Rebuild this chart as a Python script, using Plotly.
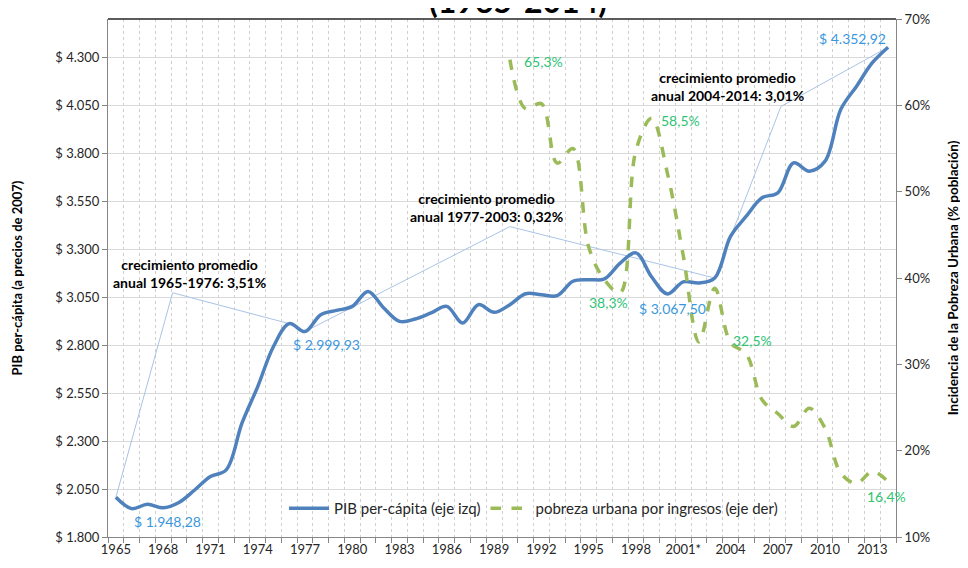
import plotly.graph_objects as go

# ---- data ----
years = list(range(1965, 2015))
year_labels = [str(y) + ("*" if y == 2001 else "") for y in years]

pib = [2007, 1948, 1971, 1952, 1980, 2045, 2115, 2150, 2393, 2584,
       2793, 2912, 2871, 2959, 2981, 3002, 3080, 2994, 2924, 2936,
       2968, 3002, 2915, 3011, 2971, 3011, 3068, 3063, 3058, 3133,
       3141, 3145, 3228, 3281, 3155, 3067, 3130, 3124, 3150, 3367,
       3472, 3568, 3594, 3750, 3707, 3759, 4029, 4150, 4272, 4353]

pobreza_years = list(range(1990, 2015))
pobreza = [65.3, 59.6, 60.2, 53.3, 55.0, 43.6, 39.8, 38.3, 54.8, 58.5,
           52.1, 42.6, 32.6, 38.8, 32.5, 31.2, 25.9, 24.3, 22.8, 24.9,
           22.6, 17.4, 16.2, 17.6, 16.4]

left_ticks = [1800, 2050, 2300, 2550, 2800, 3050, 3300, 3550, 3800, 4050, 4300]
left_ticktext = ["$ 1.800", "$ 2.050", "$ 2.300", "$ 2.550", "$ 2.800", "$ 3.050",
                 "$ 3.300", "$ 3.550", "$ 3.800", "$ 4.050", "$ 4.300"]

# growth callouts: (start year, end year, elbow x, elbow value, text x, text)
tramos = [
    (1965, 1976, 3.6, 3073, 4.7, "crecimiento promedio<br>anual 1965-1976: 3,51%"),
    (1977, 2003, 25.0, 3418, 23.5, "crecimiento promedio<br>anual 1977-2003: 0,32%"),
    (2003, 2014, 42.2, 4044, 38.8, "crecimiento promedio<br>anual 2004-2014: 3,01%"),
]

FONT = "Lato, 'Open Sans', sans-serif"
BLUE = "#4F81BD"
GREEN = "#9BBB59"
BLUE_TXT = "#3A97DE"
GREEN_TXT = "#2EC474"
LEADER = "#A9C4E6"

idx = {y: i for i, y in enumerate(years)}
xp = [idx[y] for y in years]
xg = [idx[y] for y in pobreza_years]

fig = go.Figure()

# leader lines of the callouts
for a, b, ex, ev, tx, txt in tramos:
    fig.add_trace(go.Scatter(
        x=[idx[a], ex, idx[b]], y=[pib[idx[a]], ev, pib[idx[b]]],
        mode="lines", line=dict(color=LEADER, width=1),
        showlegend=False, hoverinfo="skip"))

fig.add_trace(go.Scatter(
    x=xp, y=pib, name="PIB per-cápita (eje izq)", mode="lines",
    line=dict(color=BLUE, width=3.5, shape="spline", smoothing=1.0)))

fig.add_trace(go.Scatter(
    x=xg, y=pobreza, name="pobreza urbana por ingresos (eje der)", mode="lines",
    yaxis="y2",
    line=dict(color=GREEN, width=3.5, dash="dash", shape="spline", smoothing=1.0)))

ann = []
for a, b, ex, ev, tx, txt in tramos:
    ann.append(dict(x=tx, y=ev, text=txt, showarrow=False, xanchor="center",
                    yanchor="bottom", font=dict(size=14, color="#000000", family=FONT,
                                                weight="bold")))

# value labels
def lbl_pib(year, text, xa, ya, dx=0, dy=0):
    ann.append(dict(x=idx[year], y=pib[idx[year]], text=text, showarrow=False,
                    xanchor=xa, yanchor=ya, xshift=dx, yshift=dy,
                    font=dict(size=14, color=BLUE_TXT, family=FONT)))

def lbl_pob(year, text, xa, ya, dx=0, dy=0):
    ann.append(dict(x=idx[year], y=pobreza[pobreza_years.index(year)], yref="y2",
                    text=text, showarrow=False, xanchor=xa, yanchor=ya,
                    xshift=dx, yshift=dy,
                    font=dict(size=14, color=GREEN_TXT, family=FONT)))

lbl_pib(1966, "$ 1.948,28", "left", "top", 0, -2)
lbl_pib(1976, "$ 2.999,93", "left", "top", 2, -10)
lbl_pib(2000, "$ 3.067,50", "center", "top", 5, -4)
lbl_pib(2014, "$ 4.352,92", "right", "bottom", 0, -2)
lbl_pob(1990, "65,3%", "left", "middle", 12, -2)
lbl_pob(1997, "38,3%", "right", "middle", 10, -10)
lbl_pob(1999, "58,5%", "left", "middle", 7, -2)
lbl_pob(2004, "32,5%", "left", "middle", 0, 2)
lbl_pob(2014, "16,4%", "center", "top", -2, -4)

# partially visible title at the very top
ann.append(dict(x=0.52, y=1.0, xref="paper", yref="paper", text="(1965-2014)",
                showarrow=False, xanchor="center", yanchor="bottom", yshift=-3,
                font=dict(size=32, color="#000000", family=FONT, weight="bold")))

# page body has an 8px margin, so the figure is 960x560 and shifted
fig.update_layout(
    width=960, height=560,
    margin=dict(l=100, r=72, t=11, b=31),
    paper_bgcolor="white", plot_bgcolor="white",
    font=dict(family=FONT, size=13, color="#262626"),
    showlegend=True,
    legend=dict(orientation="h", x=0.54, y=0.055, xanchor="center", yanchor="middle",
                bgcolor="rgba(0,0,0,0)", font=dict(size=15, color="#262626"),
                itemwidth=40, tracegroupgap=0),
    annotations=ann,
    xaxis=dict(range=[-0.5, len(years) - 0.5], tickmode="array", automargin=False,
               tickvals=[i for i in xp if i % 3 == 0],
               ticktext=[year_labels[i] for i in xp if i % 3 == 0],
               showgrid=False, zeroline=False, showline=True, linecolor="#868686",
               linewidth=1, ticks="", tickfont=dict(size=13, color="#262626"),
               minor=dict(tickmode="linear", tick0=-0.5, dtick=1, showgrid=True,
                          gridcolor="#D0D0D0", griddash="dot", gridwidth=1,
                          ticks="outside", ticklen=5, tickcolor="#868686")),
    yaxis=dict(range=[1800, 4500], tickmode="array", tickvals=left_ticks,
               ticktext=left_ticktext, showgrid=True, gridcolor="#D9D9D9",
               automargin=False,
               zeroline=False, showline=True, linecolor="#868686", ticks="outside",
               ticklen=5, tickcolor="#868686", tickfont=dict(size=13, color="#262626"),
               title=dict(text="PIB per-cápita (a precios de 2007)", standoff=29,
                          font=dict(size=13, color="#000000", weight="bold"))),
    yaxis2=dict(range=[10, 70], overlaying="y", side="right", tickmode="linear",
                automargin=False,
                tick0=10, dtick=10, ticksuffix="%", showgrid=False, zeroline=False,
                showline=True, linecolor="#868686", ticks="outside", ticklen=5,
                tickcolor="#868686", tickfont=dict(size=13, color="#262626"),
                title=dict(text="Incidencia de la Pobreza Urbana (% población)",
                           standoff=19,
                           font=dict(size=13.5, color="#000000", weight="bold"))),
    shapes=[dict(type="line", xref="paper", yref="paper", x0=0, x1=1, y0=1, y1=1,
                 line=dict(color="#262626", width=1.5))],
)

fig.write_html("out.html")
